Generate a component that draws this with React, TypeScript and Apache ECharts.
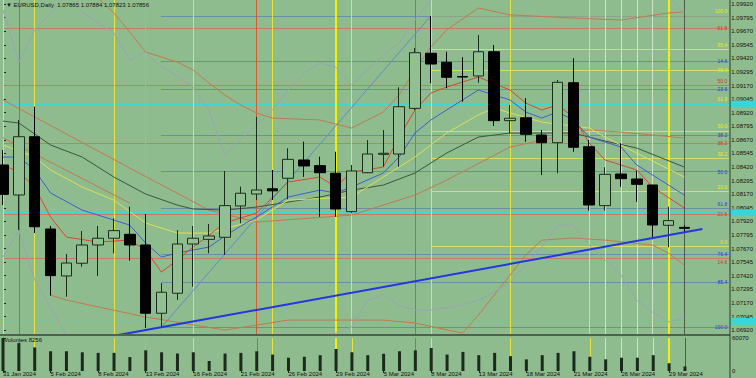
import React, { useEffect, useRef } from "react";
import * as echarts from "echarts";

// ---------- data ----------
const HEADER = "\u25BC EURUSD,Daily  1.07865 1.07884 1.07823 1.07856";
const VOLUME_TITLE = "Volumes 8256";
const CURRENT_PRICE = 1.07856;

const OPEN = [1.08439, 1.08163, 1.08699, 1.0785, 1.07418, 1.07535, 1.07703, 1.07765, 1.07801, 1.07703, 1.07075, 1.07259, 1.07712, 1.07755, 1.07774, 1.08062, 1.08172, 1.0822, 1.08317, 1.08485, 1.08433, 1.08363, 1.0801, 1.08368, 1.08537, 1.0854, 1.0896, 1.09467, 1.09384, 1.09253, 1.09258, 1.09481, 1.08847, 1.08874, 1.08715, 1.08644, 1.09196, 1.08607, 1.08065, 1.08356, 1.0831, 1.08255, 1.07884, 1.07865];
const HIGH = [1.08577, 1.08853, 1.08975, 1.07878, 1.0762, 1.07832, 1.07878, 1.07949, 1.08055, 1.07988, 1.07351, 1.0784, 1.07878, 1.07896, 1.08384, 1.0824, 1.08881, 1.08393, 1.08593, 1.08653, 1.08515, 1.08561, 1.08439, 1.08669, 1.08761, 1.09154, 1.09515, 1.0981, 1.09481, 1.0943, 1.09635, 1.09543, 1.08991, 1.09053, 1.08761, 1.09221, 1.09421, 1.08669, 1.08418, 1.08639, 1.08387, 1.08255, 1.08055, 1.07884];
const LOW = [1.08071, 1.07841, 1.07813, 1.07237, 1.07227, 1.07503, 1.07418, 1.07627, 1.07559, 1.06939, 1.06946, 1.07197, 1.07319, 1.07627, 1.07611, 1.07903, 1.08117, 1.08117, 1.08124, 1.0833, 1.07963, 1.07963, 1.07995, 1.08363, 1.08423, 1.08423, 1.08945, 1.09191, 1.09145, 1.09021, 1.09196, 1.08798, 1.08731, 1.08653, 1.08347, 1.08363, 1.08561, 1.08019, 1.08019, 1.08239, 1.081, 1.07755, 1.07682, 1.07823];
const CLOSE = [1.08169, 1.08699, 1.07871, 1.07421, 1.07537, 1.07703, 1.07765, 1.07835, 1.07703, 1.07075, 1.07268, 1.07712, 1.07765, 1.07786, 1.08065, 1.08179, 1.08209, 1.08201, 1.08491, 1.0843, 1.08368, 1.08034, 1.08384, 1.0854, 1.08547, 1.08975, 1.09472, 1.09368, 1.09246, 1.09248, 1.09481, 1.08847, 1.08869, 1.08721, 1.08644, 1.092, 1.08602, 1.08071, 1.08353, 1.08313, 1.08261, 1.07887, 1.07927, 1.07856];
const VOLUME = [60070, 50700, 42900, 35900, 35900, 34100, 33000, 33000, 25300, 37600, 34100, 31800, 34100, 18200, 31800, 33000, 35900, 30000, 24200, 26000, 28800, 40100, 34100, 28800, 31300, 35900, 37600, 41900, 30000, 34800, 28800, 33000, 27000, 21200, 28800, 33000, 35900, 26000, 21200, 24200, 24200, 28800, 14100, 8256];

const DATE_LABEL_BARS = [0, 3, 6, 9, 12, 15, 18, 21, 24, 27, 30, 33, 36, 39, 42];
const DATE_LABELS = ["31 Jan 2024", "5 Feb 2024", "8 Feb 2024", "13 Feb 2024", "16 Feb 2024", "21 Feb 2024", "26 Feb 2024", "29 Feb 2024", "5 Mar 2024", "8 Mar 2024", "13 Mar 2024", "18 Mar 2024", "21 Mar 2024", "26 Mar 2024", "29 Mar 2024"];

const PRICE_TICKS = [1.0692, 1.07045, 1.0717, 1.07295, 1.0742, 1.07545, 1.0767, 1.07795, 1.0792, 1.08045, 1.0817, 1.08295, 1.0842, 1.08545, 1.0867, 1.08795, 1.0892, 1.09045, 1.0917, 1.09295, 1.0942, 1.09545, 1.0967, 1.09795, 1.0992];
const VOLUME_TICKS = [0, 60070];

// indicator lines: [bar, price]
const MA_SLOW = [[0, 1.08843], [1, 1.08825], [3, 1.08623], [5, 1.08512], [7, 1.08328], [9, 1.08172], [11, 1.0807], [12, 1.08034], [14, 1.08024], [16, 1.08052], [20, 1.08144], [22, 1.08208], [24, 1.08254], [26, 1.08365], [28, 1.08549], [30, 1.08696], [32, 1.08733], [36, 1.08733], [38, 1.08659], [40, 1.08595], [43, 1.0842]];
const MA_BLUE = [[0, 1.08512], [1, 1.08512], [2, 1.08393], [3, 1.08181], [5, 1.08024], [7, 1.07932], [8, 1.07886], [9, 1.07721], [10, 1.07592], [11, 1.07629], [13, 1.07684], [14, 1.07785], [15, 1.07877], [16, 1.0796], [18, 1.08144], [20, 1.08208], [21, 1.08181], [22, 1.08236], [24, 1.08365], [25, 1.08512], [26, 1.08733], [27, 1.08853], [28, 1.08945], [30, 1.09129], [32, 1.09037], [33, 1.08926], [34, 1.08871], [35, 1.08926], [36, 1.08853], [37, 1.08696], [39, 1.08604], [40, 1.08439], [43, 1.08162]];
const MA_RED = [[0, 1.08439], [1, 1.08374], [2, 1.08236], [3, 1.0796], [4, 1.07776], [6, 1.0773], [8, 1.07748], [9, 1.07656], [10, 1.07454], [11, 1.07564], [12, 1.07684], [14, 1.07905], [16, 1.07997], [18, 1.08282], [20, 1.08328], [21, 1.08236], [22, 1.08374], [24, 1.0842], [25, 1.08696], [26, 1.08945], [27, 1.09101], [28, 1.09156], [30, 1.09248], [32, 1.09129], [33, 1.09009], [34, 1.08945], [35, 1.08991], [36, 1.0888], [37, 1.08641], [38, 1.08485], [40, 1.08393], [41, 1.08236], [43, 1.08043]];
const MA_YELLOW = [[0, 1.08623], [2, 1.08512], [3, 1.08393], [5, 1.08236], [7, 1.08116], [9, 1.07905], [11, 1.07813], [13, 1.07813], [16, 1.07932], [18, 1.08116], [22, 1.08144], [24, 1.08328], [26, 1.08512], [28, 1.08733], [30, 1.08899], [31, 1.08963], [32, 1.08917], [34, 1.08834], [37, 1.08779], [38, 1.08696], [40, 1.08549], [43, 1.08328]];
const BB_UPPER = [[0, 1.09865], [1, 1.09386], [2, 1.09681], [3, 1.09837], [4, 1.10003], [5, 1.09847], [6, 1.09745], [7, 1.09653], [8, 1.09405], [9, 1.09478], [10, 1.0934], [11, 1.09258], [12, 1.09156], [13, 1.08945], [14, 1.08531], [15, 1.08678], [16, 1.08807], [17, 1.08945], [18, 1.09129], [19, 1.09285], [20, 1.09377], [21, 1.0934], [22, 1.09175], [23, 1.09313], [24, 1.09451], [25, 1.09561], [26, 1.09773], [27, 1.09957], [28, 1.10187], [35, 1.10325], [41, 1.10095], [42, 1.09985], [43, 1.09837]];
const BB_LOWER = [[0, 1.07592], [1, 1.0784], [2, 1.0738], [3, 1.07132], [4, 1.06874], [5, 1.06736], [13, 1.06644], [21, 1.06892], [22, 1.06948], [23, 1.07196], [24, 1.07242], [25, 1.0715], [26, 1.07104], [27, 1.07104], [29, 1.0715], [30, 1.07196], [31, 1.0727], [32, 1.07362], [33, 1.07518], [34, 1.07684], [35, 1.07886], [36, 1.07886], [37, 1.07702], [38, 1.07564], [39, 1.07426], [40, 1.07196], [41, 1.07086], [42, 1.06994], [43, 1.0704]];
const ENV_UPPER = [[5, 1.1003], [6, 1.09975], [7, 1.09837], [8, 1.09663], [9, 1.09478], [10, 1.09432], [11, 1.09386], [12, 1.09313], [13, 1.09193], [14, 1.09083], [15, 1.08991], [16, 1.08917], [17, 1.08871], [20, 1.08853], [22, 1.08779], [24, 1.08926], [25, 1.09083], [26, 1.09313], [27, 1.09524], [28, 1.09681], [30, 1.09883], [32, 1.0982], [36, 1.09791], [39, 1.09773], [42, 1.09837], [43, 1.09847]];
const ENV_MID = [[0, 1.09037], [4, 1.08724], [8, 1.08411], [13, 1.08024], [16, 1.07914], [22, 1.07978], [26, 1.08162], [28, 1.083], [32, 1.08604], [37, 1.08761], [39, 1.08742], [43, 1.08687]];
const ENV_MID2 = [[0, 1.0869], [8, 1.08089]];
const ENV_LOWER = [[3, 1.07242], [4, 1.07196], [9, 1.0704], [14, 1.0692], [18, 1.07012], [24, 1.07012], [26, 1.06985], [29, 1.06892], [30, 1.07058], [31, 1.07242], [32, 1.07426], [33, 1.0761], [34, 1.07748], [36, 1.07767], [38, 1.07748], [41, 1.07702], [42, 1.07629], [43, 1.07518]];
const ZIGZAG = [[10, 1.06946], [27, 1.0981]];
const TRENDLINE = [[7.27, 1.06874], [44.14, 1.0785]];

// fibonacci levels: [label, price]
const FIB_BLUE_START = 10;
const FIB_BLUE = [["0.0", 1.0981], ["14.6", 1.09392], ["23.6", 1.09134], ["38.2", 1.08716], ["50.0", 1.08378], ["61.8", 1.0804], ["76.4", 1.07622], ["85.4", 1.07364], ["100.0", 1.06946]];
const FIB_YELLOW_START = 27;
const FIB_YELLOW = [["0.0", 1.07693], ["23.6", 1.08193], ["38.2", 1.08502], ["50.0", 1.08752], ["61.8", 1.09001], ["76.4", 1.0931], ["85.4", 1.09501], ["100.0", 1.0981]];
const FIB_RED_START = 0;
const FIB_RED = [["14.6", 1.07584], ["23.6", 1.07988], ["38.2", 1.08642], ["50.0", 1.09171], ["61.8", 1.09699]];
const CYAN_LEVELS = [1.09387, 1.07712, 1.07225];

// vertical marker lines (bar indices)
const VL_YELLOW = [0, 2, 7, 12, 17, 22, 27, 32, 37];
const VL_YELLOW_BRIGHT = [21, 42];
const VL_RED = [1, 16, 26];
const VL_CYAN = [9];
const VL_LIGHT = [38, 39, 40, 41];
const VL_CURRENT = [43];

// ---------- layout / style ----------
const BG = "#8fbc8f";
const FONT = "Liberation Sans, Arial, sans-serif";
const X_MIN = 0;
const X_MAX = 45.84;
const P_MIN = 1.06884;
const P_MAX = 1.09957;

// label placement per fib set (style only)
const LABEL_DEFAULT: Record<string, string> = { blue: "insideEnd", yellow: "insideEndTop", red: "insideEnd" };
const LABEL_OVERRIDE: Record<string, string> = {
  "blue:61.8": "insideEndTop",
  "red:50.0": "insideEndTop",
  "red:14.6": "insideEndBottom",
  "yellow:76.4": "insideEnd",
};
const LABEL_HIDDEN: Record<string, boolean> = { "blue:0.0": true };

function buildOption() {
  const candleData = OPEN.map((o, i) => [i, o, CLOSE[i], LOW[i], HIGH[i]]);
  const volData = VOLUME.map((v, i) => [i, v]);

  const vlines = (bars: number[], color: string, width: number, type: string = "solid") =>
    bars.map((b) => ({ xAxis: b, lineStyle: { color, width, type }, label: { show: false } }));

  const allV = [
    ...vlines(VL_YELLOW, "#e4e43a", 1),
    ...vlines(VL_YELLOW_BRIGHT, "#f2f200", 2),
    ...vlines(VL_RED, "#d65a32", 1),
    ...vlines(VL_CYAN, "#35e0e0", 1),
    ...vlines(VL_LIGHT, "#cfe3c8", 1),
    ...vlines(VL_CURRENT, "#4d5d4d", 1),
  ];

  const fib = (set: string, levels: any[], start: number, lineColor: string, labelColor: string, type: string) =>
    levels.map(([name, price]) => {
      const key = set + ":" + name;
      return [
        {
          coord: [start, price],
          lineStyle: { color: lineColor, width: 1, type },
          label: {
            show: !LABEL_HIDDEN[key],
            position: LABEL_OVERRIDE[key] || LABEL_DEFAULT[set],
            formatter: name,
            color: labelColor,
            fontSize: 5,
            distance: 2,
            fontFamily: FONT,
          },
        },
        { coord: [X_MAX, price] },
      ];
    });

  const cyan = CYAN_LEVELS.map((p) => ({
    yAxis: p,
    lineStyle: { color: "#3ad8d8", width: 1, type: "solid" },
    label: {
      show: true,
      position: "end",
      formatter: p.toFixed(5),
      color: "#38d6d6",
      backgroundColor: "#38d6d6",
      fontSize: 6,
      padding: [1, 2, 0, 2],
      distance: 1,
    },
  }));

  const line = (data: number[][], color: string, width = 1, z = 2) => ({
    type: "line",
    xAxisIndex: 0,
    yAxisIndex: 0,
    data,
    symbol: "none",
    showSymbol: false,
    silent: true,
    z,
    lineStyle: { color, width },
    emphasis: { disabled: true },
  });

  return {
    animation: false,
    backgroundColor: BG,
    textStyle: { fontFamily: FONT },
    title: [
      { text: HEADER, left: 6, top: 2, padding: 0, textStyle: { fontSize: 6, fontWeight: "normal", color: "#111", fontFamily: FONT } },
      { text: VOLUME_TITLE, left: 4, top: 337, padding: 0, textStyle: { fontSize: 6, fontWeight: "normal", color: "#111", fontFamily: FONT } },
    ],
    grid: [
      { left: 3, right: 26, top: 0, height: 334 },
      { left: 3, right: 26, top: 338, height: 33 },
    ],
    xAxis: [
      { gridIndex: 0, type: "value", min: X_MIN, max: X_MAX, show: false },
      {
        gridIndex: 1,
        type: "value",
        min: X_MIN,
        max: X_MAX,
        axisLine: { show: false },
        splitLine: { show: false },
        axisTick: { show: true, customValues: DATE_LABEL_BARS, length: 2, inside: false, lineStyle: { color: "#222" } },
        axisLabel: {
          customValues: DATE_LABEL_BARS,
          formatter: (v: number) => DATE_LABELS[DATE_LABEL_BARS.indexOf(Math.round(v))] || "",
          align: "left",
          fontSize: 6,
          margin: 0,
          color: "#111",
          fontFamily: FONT,
        },
      },
    ],
    yAxis: [
      {
        gridIndex: 0,
        type: "value",
        position: "right",
        min: P_MIN,
        max: P_MAX,
        axisLine: { show: true, lineStyle: { color: "#2c3a2c", width: 1 } },
        axisTick: { show: true, customValues: PRICE_TICKS, length: 3, lineStyle: { color: "#222" } },
        axisLabel: { customValues: PRICE_TICKS, fontSize: 6, color: "#111", margin: 2, fontFamily: FONT, formatter: (v: number) => v.toFixed(5) },
        splitLine: { show: false },
      },
      {
        gridIndex: 1,
        type: "value",
        position: "right",
        min: 0,
        max: 60070,
        axisLine: { show: true, lineStyle: { color: "#2c3a2c", width: 1 } },
        axisTick: { show: true, customValues: VOLUME_TICKS, length: 3, lineStyle: { color: "#222" } },
        axisLabel: { customValues: VOLUME_TICKS, fontSize: 6, color: "#111", margin: 2, fontFamily: FONT, formatter: (v: number) => String(v) },
        splitLine: { show: false },
      },
    ],
    graphic: [
      { type: "rect", shape: { x: 0, y: 334, width: 730, height: 2 }, style: { fill: "#51604f" }, silent: true, z: 10 },
      { type: "rect", shape: { x: 729.5, y: 0, width: 1, height: 378 }, style: { fill: "#2c3a2c" }, silent: true, z: 10 },
    ],
    series: [
      {
        type: "line",
        xAxisIndex: 0,
        yAxisIndex: 0,
        data: [],
        silent: true,
        z: 1,
        markLine: {
          silent: true,
          z: 1,
          symbol: ["none", "none"],
          animation: false,
          emphasis: { disabled: true },
          label: { show: false },
          data: [
            ...fib("red", FIB_RED, FIB_RED_START, "rgba(214,110,84,0.85)", "#d8321c", "solid"),
            ...fib("yellow", FIB_YELLOW, FIB_YELLOW_START, "#d7de62", "#eaea10", "solid"),
            ...fib("blue", FIB_BLUE, FIB_BLUE_START, "#3d62d4", "#2540d8", "dotted"),
            ...cyan,
            ...allV,
          ],
        },
      },
      {
        type: "line",
        xAxisIndex: 1,
        yAxisIndex: 1,
        data: [],
        silent: true,
        z: 1,
        markLine: {
          silent: true,
          z: 1,
          symbol: ["none", "none"],
          animation: false,
          label: { show: false },
          data: allV,
        },
      },
      line(ENV_LOWER, "#c27a4e"),
      line(ENV_MID, "#c27a4e"),
      line(ENV_MID2, "#c27a4e"),
      line(ENV_UPPER, "#c27a4e"),
      line(BB_UPPER, "#9ba2b4"),
      line(BB_LOWER, "#9ba2b4"),
      line(ZIGZAG, "#6289cc"),
      line(MA_SLOW, "#3a573a"),
      line(MA_YELLOW, "#dede55"),
      line(MA_BLUE, "#3d5fd0"),
      line(MA_RED, "#d9492c"),
      {
        type: "candlestick",
        xAxisIndex: 0,
        yAxisIndex: 0,
        data: candleData,
        encode: { x: 0, y: [1, 2, 3, 4] },
        barWidth: 11,
        silent: true,
        z: 3,
        itemStyle: {
          color: "#93c093",
          color0: "#000000",
          borderColor: "#1c2c1c",
          borderColor0: "#000000",
          borderWidth: 1,
        },
        markLine: {
          silent: true,
          symbol: ["none", "none"],
          animation: false,
          data: [
            {
              yAxis: CURRENT_PRICE,
              lineStyle: { color: "#000", width: 1, opacity: 0 },
              label: {
                show: true,
                position: "end",
                formatter: CURRENT_PRICE.toFixed(5),
                color: "#fff",
                backgroundColor: "#000",
                fontSize: 6,
                padding: [1, 2, 0, 2],
                distance: 1,
                fontFamily: FONT,
              },
            },
          ],
        },
      },
      { ...line(TRENDLINE, "#2436e0", 2, 4) },
      {
        type: "bar",
        xAxisIndex: 1,
        yAxisIndex: 1,
        data: volData,
        barWidth: 3,
        silent: true,
        z: 3,
        itemStyle: { color: "#1c2a1c" },
      },
    ],
  };
}

export default function App() {
  const ref = useRef<HTMLDivElement>(null);
  useEffect(() => {
    if (!ref.current) return;
    const chart = echarts.init(ref.current, null, { renderer: "svg" });
    chart.setOption(buildOption() as any);
    return () => chart.dispose();
  }, []);
  return (
    <div
      ref={ref}
      style={{ position: "fixed", left: 0, top: 0, width: 756, height: 378, background: BG }}
    />
  );
}
